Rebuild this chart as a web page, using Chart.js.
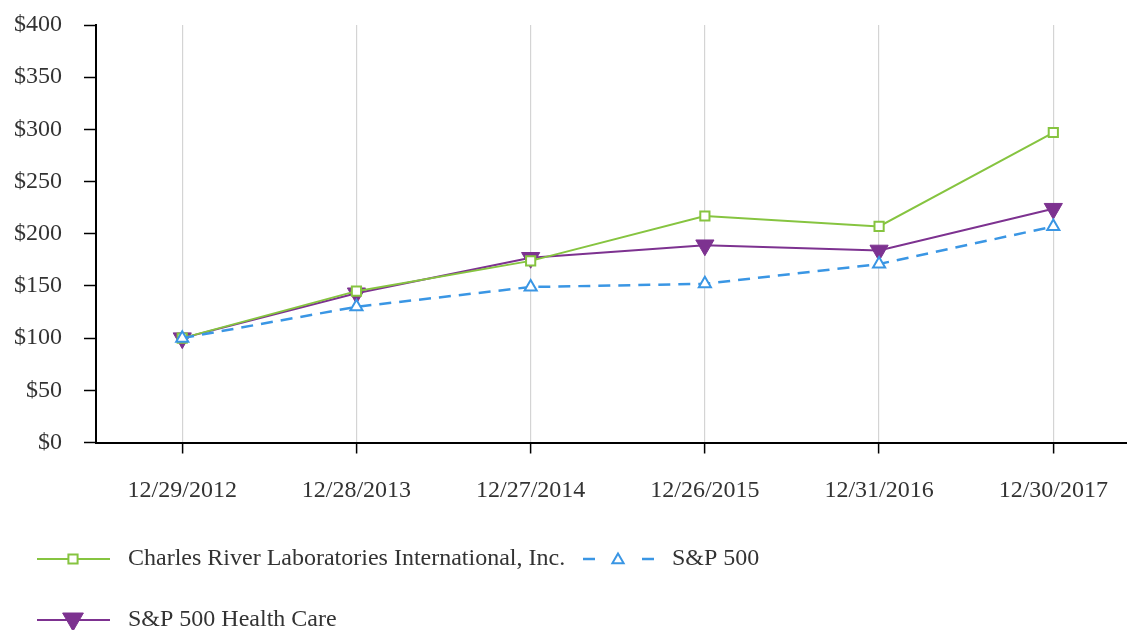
<!DOCTYPE html>
<html>
<head>
<meta charset="utf-8">
<style>
  html, body { margin: 0; padding: 0; background: #fff; }
  #wrap { width: 1127px; height: 630px; position: relative; }
</style>
<script src="https://cdn.jsdelivr.net/npm/chart.js@4.4.1/dist/chart.umd.min.js"></script>
</head>
<body>
<div id="wrap"><canvas id="chart"></canvas></div>
<script>
// data
const dates = ['12/29/2012', '12/28/2013', '12/27/2014', '12/26/2015', '12/31/2016', '12/30/2017'];
const crlValues = [100, 145, 174, 217, 207, 297];
const spValues = [100, 130, 149, 152, 171, 207];
const hcValues = [100, 143, 177, 189, 184, 224];
const seriesNames = ['Charles River Laboratories International, Inc.', 'S&P 500', 'S&P 500 Health Care'];

const GREEN = '#86c440';
const BLUE = '#3a96e4';
const PURPLE = '#7d3290';
const FONT = '"Liberation Serif", "Times New Roman", serif';

function toPoints(values) {
    return values.map((v, i) => ({ x: i, y: v }));
}

// small marker helper for the legend
function drawMarker(ctx, style, x, y, r, fill, stroke, lw) {
    ctx.save();
    ctx.beginPath();
    const c = Math.cos(Math.PI / 6) * r;
    if (style === 'rect') {
        const s = Math.SQRT1_2 * r;
        ctx.rect(x - s, y - s, 2 * s, 2 * s);
    } else if (style === 'up') {
        ctx.moveTo(x, y - r);
        ctx.lineTo(x + c, y + r / 2);
        ctx.lineTo(x - c, y + r / 2);
        ctx.closePath();
    } else {
        ctx.moveTo(x, y + r);
        ctx.lineTo(x + c, y - r / 2);
        ctx.lineTo(x - c, y - r / 2);
        ctx.closePath();
    }
    ctx.fillStyle = fill;
    ctx.fill();
    ctx.lineWidth = lw;
    ctx.strokeStyle = stroke;
    ctx.stroke();
    ctx.restore();
}

const legendPlugin = {
    id: 'bottomLegend',
    afterDraw(chart) {
        const ctx = chart.ctx;
        ctx.save();
        ctx.lineCap = 'butt';

        // row 1: CRL
        ctx.strokeStyle = GREEN;
        ctx.lineWidth = 2;
        ctx.beginPath(); ctx.moveTo(37, 559); ctx.lineTo(110, 559); ctx.stroke();
        drawMarker(ctx, 'rect', 73, 559, 6.5, '#fff', GREEN, 2);

        // row 1: S&P 500
        ctx.strokeStyle = BLUE;
        ctx.lineWidth = 2.5;
        ctx.beginPath(); ctx.moveTo(583, 559); ctx.lineTo(595, 559); ctx.stroke();
        ctx.beginPath(); ctx.moveTo(642, 559); ctx.lineTo(654, 559); ctx.stroke();
        drawMarker(ctx, 'up', 618, 560, 6.5, '#fff', BLUE, 2);

        // row 2: Health Care
        ctx.strokeStyle = PURPLE;
        ctx.lineWidth = 2;
        ctx.beginPath(); ctx.moveTo(37, 620); ctx.lineTo(110, 620); ctx.stroke();
        drawMarker(ctx, 'down', 73, 619, 12, PURPLE, PURPLE, 1);

        ctx.fillStyle = '#333';
        ctx.font = '24px ' + FONT;
        ctx.textBaseline = 'middle';
        ctx.textAlign = 'left';
        ctx.fillText(seriesNames[0], 128, 559);
        ctx.fillText(seriesNames[1], 672, 559);
        ctx.fillText(seriesNames[2], 128, 620);
        ctx.restore();
    }
};

new Chart(document.getElementById('chart'), {
    type: 'line',
    data: {
        datasets: [
            {
                label: seriesNames[2],
                data: toPoints(hcValues),
                borderColor: PURPLE,
                backgroundColor: PURPLE,
                borderWidth: 2,
                pointStyle: 'triangle',
                pointRotation: 180,
                pointRadius: 10.5,
                pointBorderWidth: 1,
                pointBackgroundColor: PURPLE,
                tension: 0,
                order: 3
            },
            {
                label: seriesNames[0],
                data: toPoints(crlValues),
                borderColor: GREEN,
                borderWidth: 2,
                pointStyle: 'rect',
                pointRadius: 6.5,
                pointBorderWidth: 2,
                pointBackgroundColor: '#fff',
                tension: 0,
                order: 2
            },
            {
                label: seriesNames[1],
                data: toPoints(spValues),
                borderColor: BLUE,
                borderWidth: 2.5,
                borderDash: [12, 8],
                pointStyle: 'triangle',
                pointRadius: 7,
                pointBorderWidth: 2,
                pointBackgroundColor: '#fff',
                tension: 0,
                order: 1
            }
        ]
    },
    options: {
        responsive: true,
        maintainAspectRatio: false,
        animation: false,
        devicePixelRatio: 1,
        layout: { autoPadding: false, padding: { top: 25, right: 0, bottom: 0, left: 0 } },
        plugins: {
            legend: { display: false },
            tooltip: { enabled: false }
        },
        scales: {
            x: {
                type: 'linear',
                min: -0.495,
                max: 5.423,
                bounds: 'data',
                afterBuildTicks: scale => {
                    scale.ticks = dates.map((d, i) => ({ value: i }));
                },
                afterFit: scale => {
                    scale.height = 187.5;
                    scale.paddingLeft = 0;
                    scale.paddingRight = 0;
                },
                ticks: {
                    autoSkip: false,
                    maxRotation: 0,
                    padding: 23,
                    color: '#333',
                    font: { family: FONT, size: 24 },
                    callback: v => dates[v] !== undefined ? dates[v] : ''
                },
                grid: {
                    color: '#d4d4d4',
                    lineWidth: 1.2,
                    tickColor: '#000',
                    tickLength: 11,
                    tickWidth: 1.5
                },
                border: { color: '#000', width: 2 }
            },
            y: {
                min: 0,
                max: 400,
                afterFit: scale => {
                    scale.width = 96;
                    scale.paddingTop = 0;
                    scale.paddingBottom = 0;
                },
                ticks: {
                    stepSize: 50,
                    padding: 22,
                    color: '#333',
                    font: { family: FONT, size: 24 },
                    callback: v => '$' + v
                },
                grid: {
                    drawOnChartArea: false,
                    tickColor: '#000',
                    tickLength: 12,
                    tickWidth: 1.5
                },
                border: { color: '#000', width: 2 }
            }
        }
    },
    plugins: [legendPlugin]
});
</script>
</body>
</html>
